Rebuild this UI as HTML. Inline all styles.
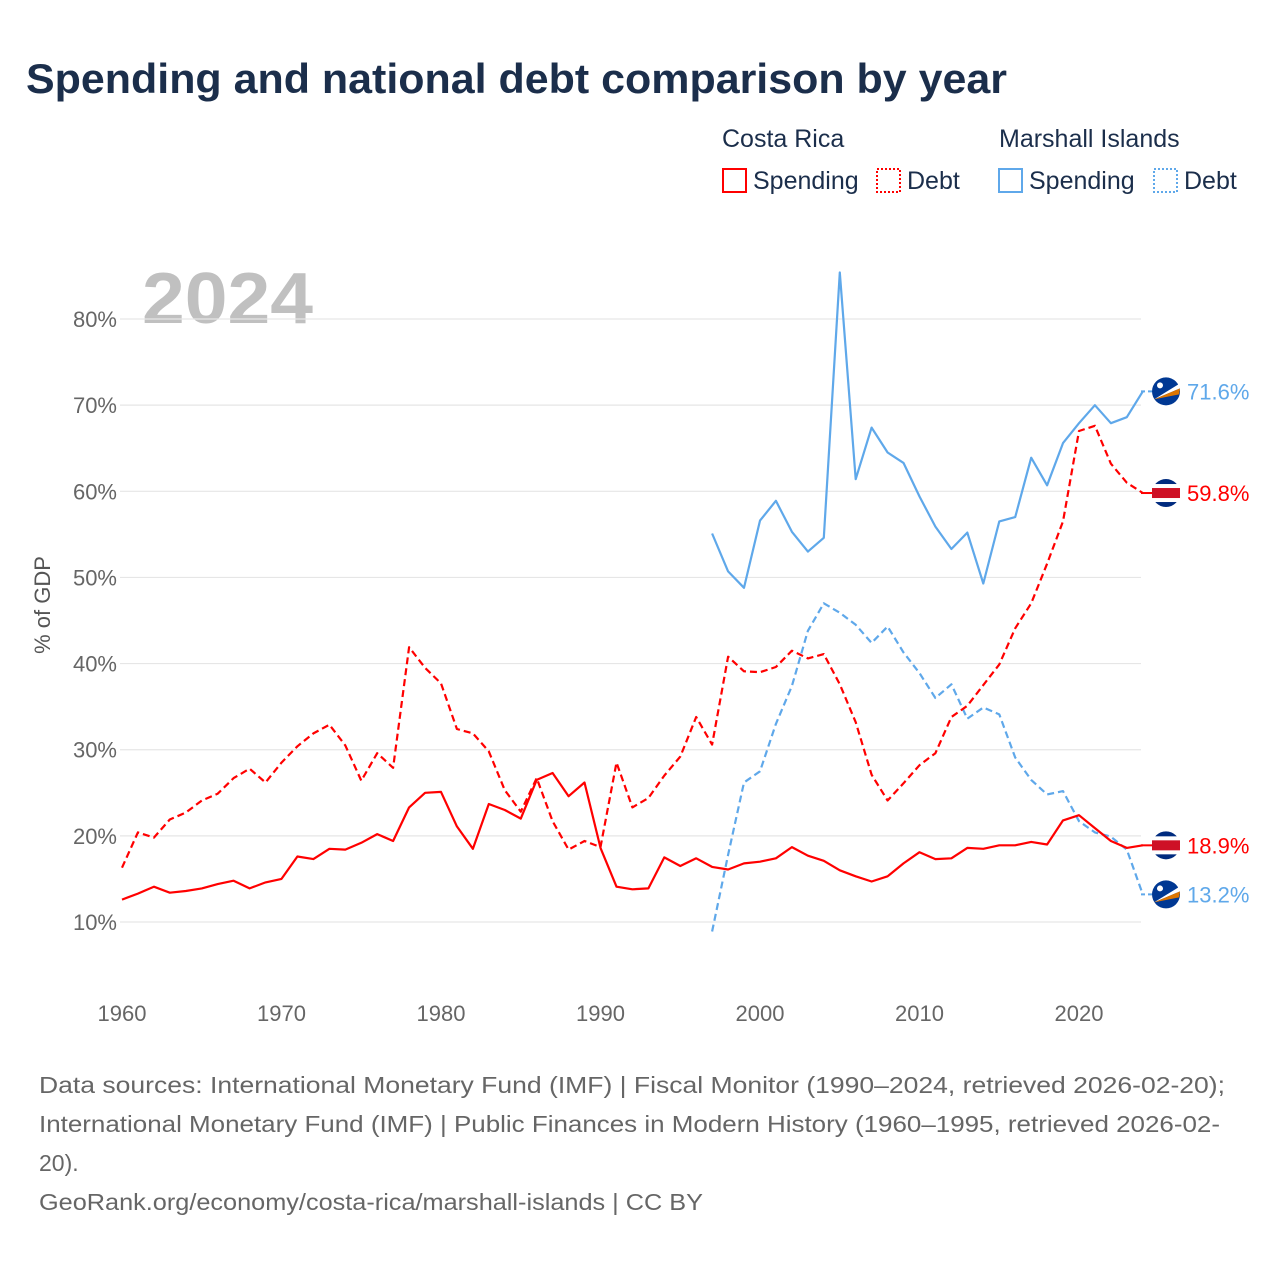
<!DOCTYPE html>
<html><head><meta charset="utf-8">
<style>
body{margin:0;background:#fff;font-family:"Liberation Sans",sans-serif;}
#wrap{position:relative;width:1280px;height:1280px;overflow:hidden;}
</style></head>
<body>
<div id="wrap">
<svg id="svg" width="1280" height="1280" xmlns="http://www.w3.org/2000/svg">
<text x="26" y="93" font-size="42" font-weight="bold" fill="#1b2e4b" textLength="981" lengthAdjust="spacingAndGlyphs">Spending and national debt comparison by year</text>
<g font-size="25" fill="#1b2e4b">
<text x="722" y="147">Costa Rica</text>
<text x="999" y="147">Marshall Islands</text>
<g><rect x="723" y="169" width="23" height="23" fill="none" stroke="#ff0000" stroke-width="2"/><text x="753" y="189">Spending</text></g>
<g><rect x="877" y="169" width="23" height="23" fill="none" stroke="#ff0000" stroke-width="2" stroke-dasharray="2,2"/><text x="907" y="189">Debt</text></g>
<g><rect x="999" y="169" width="23" height="23" fill="none" stroke="#5fa8ea" stroke-width="2"/><text x="1029" y="189">Spending</text></g>
<g><rect x="1154" y="169" width="23" height="23" fill="none" stroke="#5fa8ea" stroke-width="2" stroke-dasharray="2,2"/><text x="1184" y="189">Debt</text></g>
</g>
<text x="142" y="323" font-size="72" font-weight="bold" fill="#c0c0c0" textLength="171" lengthAdjust="spacingAndGlyphs">2024</text>
<text transform="translate(50,605) rotate(-90)" text-anchor="middle" font-size="22" fill="#555">% of GDP</text>
<g id="grid"></g><g id="ylabels"></g><g id="xlabels"></g><g id="lines"></g><g id="endlabels"></g>
<g font-size="23" fill="#666">
<text x="39" y="1093" textLength="1186" lengthAdjust="spacingAndGlyphs">Data sources: International Monetary Fund (IMF) | Fiscal Monitor (1990–2024, retrieved 2026-02-20);</text>
<text x="39" y="1132" textLength="1181" lengthAdjust="spacingAndGlyphs">International Monetary Fund (IMF) | Public Finances in Modern History (1960–1995, retrieved 2026-02-</text>
<text x="39" y="1171">20).</text>
<text x="39" y="1210" textLength="664" lengthAdjust="spacingAndGlyphs">GeoRank.org/economy/costa-rica/marshall-islands | CC BY</text>
</g>
</svg>
</div>
<script>
const yTicks=[10,20,30,40,50,60,70,80];
const xTicks=[1960,1970,1980,1990,2000,2010,2020];
const crYears=[];for(let y=1960;y<=2024;y++)crYears.push(y);
const mhYears=[];for(let y=1997;y<=2024;y++)mhYears.push(y);
const crSpending=[12.6,13.3,14.1,13.4,13.6,13.9,14.4,14.8,13.9,14.6,15.0,17.6,17.3,18.5,18.4,19.2,20.2,19.4,23.3,25.0,25.1,21.1,18.5,23.7,23.0,22.0,26.5,27.3,24.6,26.2,18.6,14.1,13.8,13.9,17.5,16.5,17.4,16.4,16.1,16.8,17.0,17.4,18.7,17.7,17.1,16.0,15.3,14.7,15.3,16.8,18.1,17.3,17.4,18.6,18.5,18.9,18.9,19.3,19.0,21.8,22.4,20.9,19.4,18.6,18.9];
const crDebt=[16.3,20.4,19.8,21.9,22.7,24.1,24.9,26.7,27.8,26.2,28.5,30.4,31.9,32.9,30.5,26.4,29.6,27.9,41.9,39.5,37.7,32.4,31.9,29.8,25.3,22.8,26.7,21.7,18.4,19.4,18.7,28.5,23.3,24.4,27.0,29.2,33.8,30.6,40.8,39.1,39.0,39.6,41.5,40.6,41.1,37.6,33.2,27.1,24.1,26.1,28.2,29.6,33.8,35.1,37.5,39.9,44.1,47.0,51.6,56.5,67.0,67.6,63.2,61.0,59.8];
const mhSpending=[55.1,50.7,48.8,56.6,58.9,55.3,53.0,54.6,85.4,61.4,67.4,64.5,63.3,59.4,55.9,53.3,55.2,49.3,56.5,57.0,63.9,60.7,65.6,67.9,70.0,67.9,68.6,71.6];
const mhDebt=[8.9,17.8,26.2,27.5,33.0,37.4,43.8,47.0,45.9,44.5,42.4,44.3,41.3,38.9,36.0,37.6,33.6,34.9,34.1,29.1,26.5,24.8,25.2,21.7,20.4,19.9,18.4,13.2];

const NS="http://www.w3.org/2000/svg";
const xS=yr=>122+(yr-1960)*15.95;
const yS=v=>922-(v-10)*8.614;
function mk(tag,attrs,parent){const e=document.createElementNS(NS,tag);for(const k in attrs)e.setAttribute(k,attrs[k]);parent.appendChild(e);return e;}
const grid=document.getElementById('grid'),yl=document.getElementById('ylabels'),xl=document.getElementById('xlabels'),lines=document.getElementById('lines'),el=document.getElementById('endlabels');
yTicks.forEach(t=>{
  const g=mk('line',{x1:120,x2:1141,y1:yS(t),y2:yS(t),stroke:'#e6e6e6','stroke-width':1.2},grid);
  
  
  const tx=mk('text',{x:117,y:yS(t)+8,'text-anchor':'end','font-size':22,fill:'#666'},yl);
  tx.textContent=t+'%';
  
  
});
xTicks.forEach(t=>{
  const tx=mk('text',{x:xS(t),y:1021,'text-anchor':'middle','font-size':22,fill:'#666'},xl);
  tx.textContent=t;
  
  
});
function line(years,vals,color,dash,name){
  const d=vals.map((v,i)=>(i?'L':'M')+xS(years[i]).toFixed(1)+','+yS(v).toFixed(1)).join('');
  const p=mk('path',{d:d,fill:'none',stroke:color,'stroke-width':2.2,'stroke-linejoin':'round'},lines);
  if(dash)p.setAttribute('stroke-dasharray','7,4');
  
  
}
line(mhYears,mhSpending,'#5fa8ea',false,'line-mh-spending');
line(mhYears,mhDebt,'#5fa8ea',true,'line-mh-debt');
line(crYears,crDebt,'#ff0000',true,'line-cr-debt');
line(crYears,crSpending,'#ff0000',false,'line-cr-spending');
function endLabel(v,color,flag,name){
  const y=yS(v);
  const g=mk('g',{},el);
  
  
  mk('line',{x1:1141,x2:1152,y1:y,y2:y,stroke:color,'stroke-width':2,'stroke-dasharray':flag==='cr'?'':'4,3'},g);
  const cx=1166;
  if(flag==='cr'){
    mk('circle',{cx:cx,cy:y,r:14,fill:'#002b7f'},g);
    mk('rect',{x:cx-14,y:y-9,width:28,height:18,fill:'#fff'},g);
    mk('rect',{x:cx-14,y:y-5,width:28,height:10,fill:'#ce1126'},g);
  }else{
    mk('circle',{cx:cx,cy:y,r:14,fill:'#003893'},g);
    mk('path',{d:`M${cx-12},${y+8} L${cx+14},${y-8} L${cx+14},${y-3} Z`,fill:'#fff'},g);
    mk('path',{d:`M${cx-12},${y+8} L${cx+14},${y-3} L${cx+13},${y+3} Z`,fill:'#dd7500'},g);
    mk('circle',{cx:cx-6,cy:y-6,r:3,fill:'#fff'},g);
  }
  const t=mk('text',{x:1187,y:y+8,'font-size':22,fill:color},g);
  t.textContent=v.toFixed(1)+'%';
}
endLabel(mhSpending[mhSpending.length-1],'#5fa8ea','mh','end-label-mh-spending');
endLabel(crDebt[crDebt.length-1],'#ff0000','cr','end-label-cr-debt');
endLabel(crSpending[crSpending.length-1],'#ff0000','cr','end-label-cr-spending');
endLabel(mhDebt[mhDebt.length-1],'#5fa8ea','mh','end-label-mh-debt');
</script>
</body></html>
